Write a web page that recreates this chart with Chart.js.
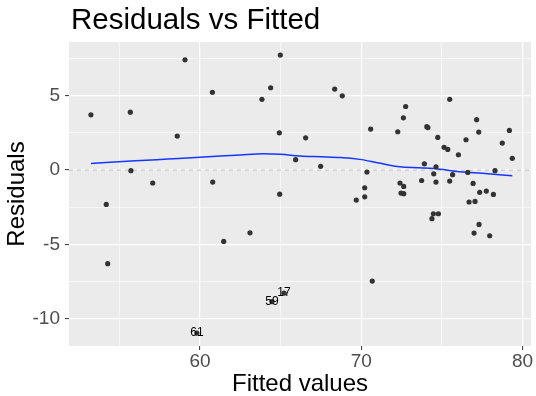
<!DOCTYPE html>
<html lang="en">
<head>
    <meta charset="UTF-8">
    <title>Residuals vs Fitted</title>
    <script src="https://cdn.jsdelivr.net/npm/chart.js"></script>
    <style>
        body { margin: 0; background: #ffffff; }
        canvas { display: block; }
    </style>
</head>
<body>
    <canvas id="residChart" width="536" height="396"></canvas>

    <script>
        // Fitted values / residuals
        let fittedX = [53.24, 55.68, 59.07, 60.77, 58.59, 55.72, 57.07, 60.79, 64.98, 63.84,
                       64.38, 68.35, 68.82, 64.92, 66.55, 65.93, 67.48, 64.94, 69.69, 70.58,
                       72.26, 72.61, 72.75, 75.48, 74.06, 74.13, 74.74, 75.13, 75.36, 76.02,
                       76.49, 77.15, 77.28, 79.18, 78.74, 79.36, 70.35, 73.91, 74.63, 74.49,
                       73.74, 74.63, 75.66, 75.48, 76.60, 78.29, 76.93, 77.34, 77.75, 78.19,
                       70.21, 70.21, 72.40, 72.63, 72.46, 72.63, 76.68, 77.05, 74.47, 74.78,
                       74.38, 77.30, 76.99, 77.96, 70.68, 54.19, 54.28, 61.47, 63.10];
        let residualY = [3.72, 3.90, 7.42, 5.23, 2.29, -0.04, -0.87, -0.81, 7.74, 4.76,
                         5.54, 5.45, 5.00, 2.51, 2.17, 0.70, 0.25, -1.62, -2.02, 2.76,
                         2.58, 3.52, 4.28, 4.76, 2.92, 2.86, 2.20, 1.53, 1.39, 1.03,
                         2.04, 3.39, 2.56, 2.67, 1.82, 0.79, -0.13, 0.42, 0.22, -0.25,
                         -0.70, -0.81, -0.31, -0.74, -0.16, -0.04, -0.90, -1.50, -1.41, -1.64,
                         -1.19, -1.80, -0.87, -1.10, -1.55, -1.59, -2.15, -2.11, -2.94, -2.94,
                         -3.27, -3.66, -4.24, -4.42, -7.47, -2.31, -6.30, -4.80, -4.22];

        // the three labelled observations
        let labelIds = ["61", "59", "17"];
        let labelX = [59.81, 64.46, 65.21];
        let labelY = [-10.97, -8.85, -8.28];

        // smoother (blue line)
        let smoothX = [53.24, 56.0, 58.0, 60.0, 61.24, 62.5, 63.9, 65.0, 66.2, 67.5,
                       68.7, 69.9, 71.0, 72.4, 73.5, 74.5, 76.1, 77.5, 79.36];
        let smoothY = [0.45, 0.62, 0.74, 0.86, 0.94, 1.02, 1.10, 1.06, 0.95, 0.90,
                       0.85, 0.72, 0.50, 0.22, 0.16, 0.11, -0.11, -0.22, -0.38];

        // axes
        let xMajorTicks = [60, 70, 80];
        let xMinorTicks = [55, 65, 75];
        let yMajorTicks = [-10, -5, 0, 5];
        let yMinorTicks = [-7.5, -2.5, 2.5, 7.5];
        let xLimits = [51.88, 80.52];
        let yLimits = [-11.84, 8.62];

        const toPoints = (xs, ys) => xs.map((x, i) => ({ x: x, y: ys[i] }));
        const isMajor = (list, v) => list.some(m => Math.abs(m - v) < 1e-9);

        Chart.defaults.font.family = "'Liberation Sans', Arial, sans-serif";

        // grey panel + white page
        const panelBackground = {
            id: 'panelBackground',
            beforeDraw(chart) {
                const { ctx, chartArea: a } = chart;
                ctx.save();
                ctx.fillStyle = '#ffffff';
                ctx.fillRect(0, 0, chart.width, chart.height);
                ctx.fillStyle = '#EBEBEB';
                ctx.fillRect(a.left, a.top, a.right - a.left, a.bottom - a.top);
                ctx.restore();
            }
        };

        // plot title, left aligned with the panel
        const plotTitle = {
            id: 'plotTitle',
            afterDraw(chart) {
                const { ctx, chartArea: a } = chart;
                ctx.save();
                ctx.fillStyle = '#000000';
                ctx.font = "29.5px 'Liberation Sans', Arial, sans-serif";
                ctx.textAlign = 'left';
                ctx.textBaseline = 'alphabetic';
                ctx.fillText('Residuals vs Fitted', a.left + 2, 28.5);
                ctx.restore();
            }
        };

        // observation numbers on top of their points
        const pointLabels = {
            id: 'pointLabels',
            afterDatasetsDraw(chart) {
                const { ctx, scales } = chart;
                ctx.save();
                ctx.fillStyle = '#000000';
                ctx.font = "12px 'Liberation Sans', Arial, sans-serif";
                ctx.textAlign = 'center';
                ctx.textBaseline = 'middle';
                labelIds.forEach((id, i) => {
                    ctx.fillText(id, scales.x.getPixelForValue(labelX[i]), scales.y.getPixelForValue(labelY[i]));
                });
                ctx.restore();
            }
        };

        function axisGrid(majors) {
            return {
                color: '#ffffff',
                lineWidth: c => (c.tick && isMajor(majors, c.tick.value)) ? 1.2 : 0.6,
                tickColor: c => (c.tick && isMajor(majors, c.tick.value)) ? '#333333' : 'rgba(0,0,0,0)',
                tickLength: 4,
                tickWidth: 1,
                drawTicks: true
            };
        }

        let config = {
            type: 'scatter',
            data: {
                datasets: [
                    {
                        label: 'Residuals',
                        data: toPoints(fittedX, residualY),
                        backgroundColor: '#333333',
                        borderWidth: 0,
                        pointRadius: 2.6
                    },
                    {
                        label: 'Labelled',
                        data: toPoints(labelX, labelY),
                        backgroundColor: '#333333',
                        borderWidth: 0,
                        pointRadius: 2.6
                    },
                    {
                        type: 'line',
                        label: 'Smooth',
                        data: toPoints(smoothX, smoothY),
                        borderColor: '#1636ff',
                        borderWidth: 1.5,
                        pointRadius: 0,
                        fill: false,
                        cubicInterpolationMode: 'monotone'
                    },
                    {
                        type: 'line',
                        label: 'Zero',
                        data: [{ x: xLimits[0], y: 0 }, { x: xLimits[1], y: 0 }],
                        borderColor: '#ababab',
                        borderWidth: 0.8,
                        borderDash: [4, 4],
                        pointRadius: 0,
                        fill: false
                    }
                ]
            },
            options: {
                responsive: false,
                animation: false,
                layout: { padding: { top: 42, right: 5, left: 0, bottom: 0 } },
                plugins: {
                    legend: { display: false },
                    tooltip: { enabled: false }
                },
                scales: {
                    x: {
                        type: 'linear',
                        min: xLimits[0],
                        max: xLimits[1],
                        afterBuildTicks: s => { s.ticks = xMinorTicks.concat(xMajorTicks).sort((a, b) => a - b).map(v => ({ value: v })); },
                        afterFit: s => { s.height = 50; },
                        grid: axisGrid(xMajorTicks),
                        border: { display: false },
                        ticks: {
                            color: '#4D4D4D',
                            font: { size: 19 },
                            padding: 0,
                            maxRotation: 0,
                            autoSkip: false,
                            callback: v => isMajor(xMajorTicks, v) ? String(v) : ''
                        },
                        title: {
                            display: true,
                            text: 'Fitted values',
                            color: '#000000',
                            font: { size: 24, lineHeight: 1 },
                            padding: { top: 0, bottom: 0 }
                        }
                    },
                    y: {
                        type: 'linear',
                        min: yLimits[0],
                        max: yLimits[1],
                        afterBuildTicks: s => { s.ticks = yMinorTicks.concat(yMajorTicks).sort((a, b) => a - b).map(v => ({ value: v })); },
                        afterFit: s => { s.width = 69; },
                        grid: axisGrid(yMajorTicks),
                        border: { display: false },
                        ticks: {
                            color: '#4D4D4D',
                            font: { size: 19 },
                            padding: 5,
                            autoSkip: false,
                            callback: v => isMajor(yMajorTicks, v) ? String(v) : ''
                        },
                        title: {
                            display: true,
                            text: 'Residuals',
                            color: '#000000',
                            font: { size: 24, lineHeight: 1 },
                            padding: { top: 5, bottom: 0 }
                        }
                    }
                }
            },
            plugins: [panelBackground, plotTitle, pointLabels]
        };

        let residChart = new Chart(document.getElementById('residChart'), config);
    </script>
</body>
</html>
